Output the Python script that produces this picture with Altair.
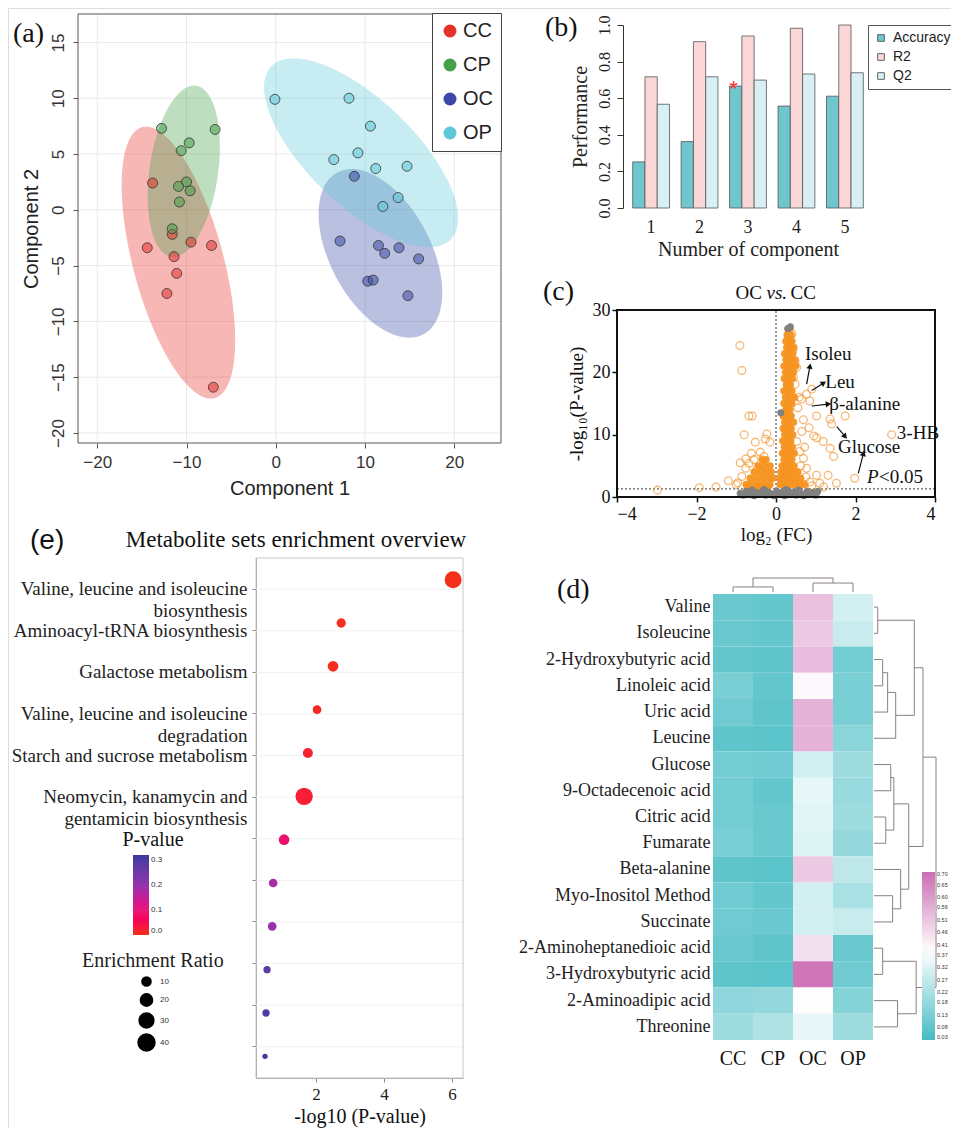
import json
import altair as alt
import numpy as np
import pandas as pd

SERIF = "Liberation Serif"
SANS = "Liberation Sans"
W, H = 943, 1120   # canvas (page minus 8px margins)

# ---------------- (a) PLS-DA scores ----------------
pls_groups = ["CC", "CP", "OC", "OP"]
group_colors = ["#e4322b", "#45a04a", "#3a4aa6", "#5ec8d8"]
cc_x = [-13.8, -14.4, -11.6, -11.4, -11.1, -12.2, -9.5, -7.2, -7.0]
cc_y = [2.4, -3.4, -2.2, -4.2, -5.7, -7.5, -2.9, -3.2, -15.9]
cp_x = [-12.8, -6.8, -9.7, -10.6, -10.0, -10.9, -9.6, -10.8, -11.6]
cp_y = [7.3, 7.2, 6.0, 5.3, 2.5, 2.1, 1.7, 0.7, -1.7]
oc_x = [8.8, 7.2, 11.5, 12.2, 13.8, 16.0, 10.3, 10.9, 14.8]
oc_y = [3.0, -2.8, -3.2, -3.9, -3.4, -4.4, -6.4, -6.3, -7.7]
op_x = [-0.1, 8.2, 10.6, 6.5, 9.2, 11.2, 14.7, 13.7, 12.0]
op_y = [9.9, 10.0, 7.5, 4.5, 5.1, 3.7, 3.9, 1.1, 0.3]
a_xticks = [-20, -10, 0, 10, 20]
a_yticks = [-20, -15, -10, -5, 0, 5, 10, 15]

# ---------------- (b) performance ----------------
components = [1, 2, 3, 4, 5]
perf_metrics = ["Accuracy", "R2", "Q2"]
perf_colors = ["#70c6cd", "#fad6d6", "#d7eff5"]
accuracy = [0.252, 0.363, 0.666, 0.557, 0.611]
r2_vals = [0.717, 0.909, 0.940, 0.982, 1.0]
q2_vals = [0.567, 0.717, 0.699, 0.732, 0.739]
best_component = 3

# ---------------- (c) volcano ----------------
open_x = [-0.91, -0.86, -0.68, -0.60, -0.80, -2.98, -1.93, -1.51, -1.20, -0.96, -0.76, -0.52,
          -0.23, -0.27, -0.15, -0.76, -0.68, -0.47, -0.32, -0.36, -0.19, -0.86, -0.57, -0.42,
          -0.62, -0.55, -0.40, -0.30, -0.90, -1.00,
          0.90, 0.77, 0.64, 0.85, 0.55, 1.02, 1.36, 1.74, 1.40, 0.83, 1.02, 1.19, 1.36, 1.45,
          2.91, 1.98, 1.02, 1.31, 1.52, 1.10, 0.85, 0.77, 0.69, 0.60, 0.52, 0.65, 0.69, 0.48,
          0.52, 0.42, 0.40, 0.48, 0.44, 0.58, 0.95, 0.72, 0.62, 0.75, 0.90, 1.20]
open_y = [24.3, 20.3, 13.0, 13.0, 10.0, 1.1, 1.5, 1.6, 2.6, 2.3, 6.1, 8.8,
          10.1, 9.3, 8.8, 4.6, 5.4, 4.6, 5.1, 3.8, 3.5, 3.3, 2.4, 1.6,
          7.0, 6.0, 7.2, 6.5, 5.5, 2.0,
          17.3, 16.5, 15.7, 15.4, 14.3, 13.0, 12.5, 13.0, 11.7, 11.1, 9.5, 8.9, 7.8, 6.5,
          10.0, 3.0, 3.5, 3.5, 2.2, 2.2, 2.4, 4.6, 6.2, 7.3, 8.9, 10.5, 12.4, 18.1,
          20.8, 23.5, 26.2, 21.8, 19.2, 16.0, 9.8, 8.0, 5.0, 3.2, 1.8, 1.6]
filled_x = [0.30, 0.35, 0.28, 0.38, 0.25, 0.33, 0.40, 0.27, 0.36, 0.45, 0.22, 0.31, 0.42,
            0.25, 0.35, 0.48, 0.20, 0.30, 0.40, 0.50, 0.24, 0.34, 0.44, 0.21, 0.31, 0.41,
            0.26, 0.36, 0.20, 0.30, 0.40, 0.24, 0.34, 0.46, 0.20, 0.30, 0.40, 0.25, 0.35,
            0.18, 0.28, 0.38, 0.22, 0.32, 0.44, 0.18, 0.28, 0.38, 0.22, 0.32, 0.42, 0.17,
            0.27, 0.37, 0.21, 0.31, 0.41, 0.16, 0.26, 0.36, 0.46, 0.20, 0.30, 0.40, 0.15,
            0.25, 0.35, 0.45, 0.12, 0.22, 0.32, 0.42, 0.55, 0.10, 0.20, 0.30, 0.40, 0.50,
            0.62, 0.10, 0.20, 0.30, 0.40, 0.50, 0.60, 0.72,
            -0.35, -0.25, -0.45, -0.30, -0.15, -0.55, -0.40, -0.25, -0.12, -0.65, -0.50,
            -0.35, -0.20, -0.08, -0.75, -0.60, -0.45, -0.30, -0.15, -0.70, -0.50, -0.35, -0.20]
filled_y = [27, 27, 26, 26, 25, 25, 25, 24, 24, 24, 23, 23, 23,
            22, 22, 22, 21, 21, 21, 21, 20, 20, 20, 19, 19, 19,
            18, 18, 17, 17, 17, 16, 16, 16, 15, 15, 15, 14, 14,
            13, 13, 13, 12, 12, 12, 11, 11, 11, 10, 10, 10, 9,
            9, 9, 8, 8, 8, 7, 7, 7, 7, 6, 6, 6, 5,
            5, 5, 5, 4, 4, 4, 4, 4, 3, 3, 3, 3, 3,
            3, 2, 2, 2, 2, 2, 2, 2,
            6, 6, 5, 5, 5, 4, 4, 4, 4, 3, 3,
            3, 3, 3, 2, 2, 2, 2, 2, 1.6, 1.6, 1.6, 1.6]
gray_x = [-0.90, -0.82, -0.75, -0.68, -0.60, -0.55, -0.48, -0.40, -0.33, -0.26, -0.20, -0.12,
          -0.05, 0.02, 0.08, 0.15, 0.22, 0.30, 0.36, 0.44, 0.50, 0.57, 0.64, 0.70, 0.78, 0.85,
          0.92, 1.00, 1.05, 0.12, 0.30, 0.36, -0.30, 0.25]
gray_y = [0.6, 0.3, 0.9, 0.4, 1.1, 0.2, 0.7, 0.4, 1.0, 0.3, 0.8, 0.5,
          0.2, 0.9, 0.4, 0.7, 0.2, 1.0, 0.5, 0.8, 0.3, 1.1, 0.5, 0.2, 0.9, 0.4,
          0.7, 0.3, 0.9, 13.5, 27.0, 27.3, 1.2, 1.2]
p_threshold = 1.3
volcano_labels = ["Isoleu", "Leu", "β-alanine", "3-HB", "Glucose"]
label_x = [0.73, 1.24, 1.34, 3.04, 1.56]
label_y = [23.0, 18.5, 14.9, 10.3, 8.1]
arrow_x1 = [0.77, 0.90, 0.90, 1.53, 2.07]
arrow_y1 = [18.1, 17.1, 14.6, 11.3, 3.8]
arrow_x2 = [0.855, 1.20, 1.32, 1.74, 2.20]
arrow_y2 = [21.0, 18.3, 14.9, 9.7, 7.0]

# ---------------- (e) enrichment ----------------
pathway_lines = [["Valine, leucine and isoleucine", "biosynthesis"],
                 ["Aminoacyl-tRNA biosynthesis"],
                 ["Galactose metabolism"],
                 ["Valine, leucine and isoleucine", "degradation"],
                 ["Starch and sucrose metabolism"],
                 ["Neomycin, kanamycin and", "gentamicin biosynthesis"],
                 [""], [""], [""], [""], [""], [""]]
enrich_logp = [6.03, 2.74, 2.50, 2.03, 1.76, 1.65, 1.06, 0.74, 0.71, 0.56, 0.53, 0.50]
enrich_ratio = [40.4, 10.5, 14.6, 9.0, 12.6, 42.0, 14.6, 9.0, 9.0, 5.7, 5.7, 2.0]

# ---------------- (d) heatmap ----------------
hm_cols = ["CC", "CP", "OC", "OP"]
hm_rows = ["Valine", "Isoleucine", "2-Hydroxybutyric acid", "Linoleic acid", "Uric acid",
           "Leucine", "Glucose", "9-Octadecenoic acid", "Citric acid", "Fumarate",
           "Beta-alanine", "Myo-Inositol Method", "Succinate", "2-Aminoheptanedioic acid",
           "3-Hydroxybutyric acid", "2-Aminoadipic acid", "Threonine"]
hm_cc = [0.10, 0.10, 0.09, 0.13, 0.11, 0.08, 0.12, 0.12, 0.12, 0.13, 0.08, 0.11, 0.11, 0.10, 0.08, 0.17, 0.20]
hm_cp = [0.09, 0.09, 0.08, 0.09, 0.08, 0.07, 0.11, 0.09, 0.10, 0.10, 0.07, 0.09, 0.10, 0.08, 0.07, 0.18, 0.23]
hm_oc = [0.52, 0.50, 0.53, 0.40, 0.55, 0.55, 0.30, 0.34, 0.33, 0.32, 0.50, 0.30, 0.30, 0.45, 0.68, 0.39, 0.34]
hm_op = [0.30, 0.28, 0.12, 0.13, 0.13, 0.16, 0.20, 0.19, 0.20, 0.18, 0.26, 0.22, 0.28, 0.10, 0.11, 0.15, 0.20]
hm_legend_ticks = [0.70, 0.65, 0.60, 0.56, 0.51, 0.46, 0.41, 0.37, 0.32, 0.27, 0.22, 0.18, 0.13, 0.08, 0.03]
row_tree = [("Valine", "Isoleucine", 0.06),
            ("2-Hydroxybutyric acid", "Linoleic acid", 0.14),
            ("m1", "Uric acid", 0.22),
            ("m2", "Leucine", 0.35),
            ("m0", "m3", 0.65),
            ("Glucose", "9-Octadecenoic acid", 0.27),
            ("Citric acid", "Fumarate", 0.19),
            ("m5", "m6", 0.32),
            ("Myo-Inositol Method", "Succinate", 0.30),
            ("Beta-alanine", "m8", 0.43),
            ("m7", "m9", 0.56),
            ("m4", "m10", 0.79),
            ("2-Aminoheptanedioic acid", "3-Hydroxybutyric acid", 0.14),
            ("2-Aminoadipic acid", "Threonine", 0.38),
            ("m12", "m13", 0.68),
            ("m11", "m14", 1.0)]
col_tree = [("CC", "CP", 0.36), ("OC", "OP", 0.64), ("m0", "m1", 1.0)]

# ---------------- panel boxes on the canvas (pixels) ----------------
BOX_A = (70, 493, 6, 435)       # x0, x1, y0(top), y1(bottom)
BOX_B = (615, 865, 17, 200)
BOX_C = (609, 927, 302, 489)
BOX_E = (248, 455, 550, 1070)
BOX_D = (705, 865, 586, 1032)


def txt(s, x, y, size=28, font=SERIF, align="left", style="normal", color="#111"):
    return alt.Chart(pd.DataFrame({"t": [s]})).mark_text(
        text=s, font=font, fontSize=size, align=align, baseline="middle",
        fontStyle=style, color=color
    ).encode(x=alt.value(x), y=alt.value(y))


def lin(domain, rng):
    return alt.Scale(domain=list(domain), range=list(rng), nice=False, zero=False)


layers = []

# ============ panel a ============
def ellipse_rows(name, xs, ys, k=2.4477, n=90):
    xs = np.asarray(xs, float)
    ys = np.asarray(ys, float)
    mx, my = xs.mean(), ys.mean()
    S = np.cov(xs, ys)
    inv = np.linalg.inv(S)
    a, b, d = inv[0, 0], inv[0, 1], inv[1, 1]
    half = k * np.sqrt(S[0, 0])
    out = []
    for th in np.linspace(np.pi, 0, n):
        dx = half * np.cos(th)
        disc = max(b * b * dx * dx - d * (a * dx * dx - k * k), 0.0)
        r = np.sqrt(disc)
        out.append({"group": name, "x": mx + dx,
                    "lo": my + (-b * dx - r) / d, "hi": my + (-b * dx + r) / d})
    return out


grp_xy = {"CC": (cc_x, cc_y), "CP": (cp_x, cp_y), "OC": (oc_x, oc_y), "OP": (op_x, op_y)}
pts_rows, ell_rows = [], []
for g in pls_groups:
    gx, gy = grp_xy[g]
    for xv, yv in zip(gx, gy):
        pts_rows.append({"group": g, "x": xv, "y": yv})
    ell_rows += ellipse_rows(g, gx, gy)

a_xdom = (-22.16, 25.23)
a_ydom = (-20.9, 17.55)
sa_x = lin(a_xdom, (BOX_A[0], BOX_A[1]))
sa_y = lin(a_ydom, (BOX_A[3], BOX_A[2]))
ax_xa = alt.Axis(orient="bottom", offset=BOX_A[3] - H, values=a_xticks, title="Component 1",
                 labelFont=SANS, labelFontSize=17, labelColor="#333", titleFont=SANS, titleFontSize=20,
                 titleFontWeight="normal", titleColor="#222", tickColor="#555", tickSize=5,
                 domain=False, grid=False, labelPadding=6, titlePadding=8)
ax_ya = alt.Axis(orient="left", offset=-BOX_A[0], values=a_yticks, title="Component 2", labelAngle=-90,
                 labelAlign="center", labelBaseline="bottom", labelFont=SANS, labelFontSize=17,
                 labelColor="#333", titleFont=SANS, titleFontSize=20, titleFontWeight="normal",
                 titleColor="#222", tickColor="#555", tickSize=5, domain=False, grid=False,
                 labelPadding=6, titlePadding=8)
grid_v = pd.DataFrame({"v": a_xticks, "lo": a_ydom[0], "hi": a_ydom[1]})
grid_h = pd.DataFrame({"v": a_yticks, "lo": a_xdom[0], "hi": a_xdom[1]})
layers.append(alt.Chart(grid_v).mark_rule(color="#e9e9e9", strokeWidth=1).encode(
    x=alt.X("v:Q", scale=sa_x, axis=ax_xa), y=alt.Y("lo:Q", scale=sa_y, axis=ax_ya), y2="hi:Q"))
layers.append(alt.Chart(grid_h).mark_rule(color="#e9e9e9", strokeWidth=1).encode(
    y=alt.Y("v:Q", scale=sa_y, axis=None), x=alt.X("lo:Q", scale=sa_x, axis=None), x2="hi:Q"))
layers.append(alt.Chart(pd.DataFrame(ell_rows)).mark_area(opacity=0.35).encode(
    x=alt.X("x:Q", scale=sa_x, axis=None),
    y=alt.Y("lo:Q", scale=sa_y, axis=None),
    y2="hi:Q",
    fill=alt.Fill("group:N", scale=alt.Scale(domain=pls_groups, range=group_colors), legend=None)))
layers.append(alt.Chart(pd.DataFrame(pts_rows)).mark_circle(
    size=100, fillOpacity=0.55, stroke="#333", strokeWidth=0.8).encode(
    x=alt.X("x:Q", scale=sa_x, axis=None),
    y=alt.Y("y:Q", scale=sa_y, axis=None),
    color=alt.Color("group:N", scale=alt.Scale(domain=pls_groups, range=group_colors),
                    legend=alt.Legend(title=None, orient="none", legendX=424, legendY=5,
                                      strokeColor="#444", fillColor="white", padding=8,
                                      symbolType="circle", symbolSize=169, symbolOpacity=1,
                                      symbolStrokeWidth=0, labelFont=SANS, labelFontSize=20,
                                      labelColor="#222", rowPadding=14, labelOffset=3))))
frame_a = pd.DataFrame({"x1": [a_xdom[0]], "x2": [a_xdom[1]], "y1": [a_ydom[0]], "y2": [a_ydom[1]]})
layers.append(alt.Chart(frame_a).mark_rect(fillOpacity=0, stroke="#555", strokeWidth=1).encode(
    x=alt.X("x1:Q", scale=sa_x, axis=None), x2="x2:Q", y=alt.Y("y1:Q", scale=sa_y, axis=None), y2="y2:Q"))
layers.append(txt("(a)", 5, 26))

# ============ panel b ============
b_rows = []
for i, c in enumerate(components):
    for m, vals in zip(perf_metrics, [accuracy, r2_vals, q2_vals]):
        b_rows.append({"comp": c, "metric": m, "value": vals[i]})
star_df = pd.DataFrame({"comp": [best_component], "metric": ["Accuracy"],
                        "value": [accuracy[components.index(best_component)]]})
sb_x = alt.Scale(domain=components, range=[BOX_B[0], BOX_B[1]], paddingInner=0.24, paddingOuter=0.2)
sb_y = lin((0, 1), (BOX_B[3], BOX_B[2]))
sb_off = alt.Scale(domain=perf_metrics, paddingInner=0, paddingOuter=0)
ax_xb = alt.Axis(orient="bottom", offset=BOX_B[3] - H, labelAngle=0, labelFont=SERIF, labelFontSize=18,
                 labelColor="#222", ticks=False, domain=False, title="Number of component",
                 titleFont=SERIF, titleFontSize=20, titleFontWeight="normal", titleColor="#222",
                 labelPadding=10, titlePadding=3)
ax_yb = alt.Axis(orient="left", offset=-BOX_B[0], values=[0, 0.2, 0.4, 0.6, 0.8, 1.0], format=".1f",
                 labelAngle=-90, labelAlign="center", labelBaseline="bottom", labelFont=SERIF,
                 labelFontSize=16, labelColor="#222", tickSize=6, tickColor="#333", domainColor="#333",
                 grid=False, title="Performance", titleFont=SERIF, titleFontSize=20,
                 titleFontWeight="normal", titleColor="#222", labelPadding=5, titlePadding=6)
layers.append(alt.Chart(pd.DataFrame(b_rows)).mark_bar(stroke="#555", strokeWidth=0.8).encode(
    x=alt.X("comp:O", scale=sb_x, axis=ax_xb),
    xOffset=alt.XOffset("metric:N", sort=perf_metrics, scale=sb_off),
    y=alt.Y("value:Q", scale=sb_y, axis=ax_yb),
    color=alt.Color("metric:N", sort=perf_metrics, scale=alt.Scale(domain=perf_metrics, range=perf_colors),
                    legend=alt.Legend(title=None, orient="none", legendX=860, legendY=BOX_B[2],
                                      strokeColor="#555", fillColor="white", padding=6, symbolType="square",
                                      symbolSize=45, symbolStrokeColor="#444", symbolStrokeWidth=0.8,
                                      labelFont=SANS, labelFontSize=14, labelColor="#222", rowPadding=5,
                                      labelOffset=5))))
layers.append(alt.Chart(star_df).mark_text(text="*", color="#ff2a2a", fontSize=22, font=SANS,
                                           baseline="alphabetic", dy=10, dx=4).encode(
    x=alt.X("comp:O", scale=sb_x, axis=None),
    xOffset=alt.XOffset("metric:N", sort=perf_metrics, scale=sb_off),
    y=alt.Y("value:Q", scale=sb_y, axis=None)))
layers.append(txt("(b)", 537, 20))

# ============ panel c ============
c_xdom, c_ydom = (-4, 4), (0, 30)
sc_x = lin(c_xdom, (BOX_C[0], BOX_C[1]))
sc_y = lin(c_ydom, (BOX_C[3], BOX_C[2]))
ax_xc = alt.Axis(orient="bottom", offset=BOX_C[3] - H, values=[-4, -2, 0, 2, 4], title="log₂ (FC)",
                 labelFont=SERIF, labelFontSize=18, labelColor="#111", titleFont=SERIF, titleFontSize=19,
                 titleFontWeight="normal", titleColor="#111", tickColor="#111", tickWidth=1.5, tickSize=5,
                 domain=False, grid=False, labelPadding=3, titlePadding=2)
ax_yc = alt.Axis(orient="left", offset=-BOX_C[0], values=[0, 10, 20, 30], title="-log₁₀(P-value)",
                 labelFont=SERIF, labelFontSize=18, labelColor="#111", titleFont=SERIF, titleFontSize=19,
                 titleFontWeight="normal", titleColor="#111", tickColor="#111", tickWidth=1.5, tickSize=5,
                 domain=False, grid=False, labelPadding=2, titlePadding=6)


def XC(f, axis=None):
    return alt.X(f, scale=sc_x, axis=axis)


def YC(f, axis=None):
    return alt.Y(f, scale=sc_y, axis=axis)


sx_px = (BOX_C[1] - BOX_C[0]) / (c_xdom[1] - c_xdom[0])
sy_px = (BOX_C[3] - BOX_C[2]) / (c_ydom[1] - c_ydom[0])
ang = [float(np.degrees(np.arctan2((x2 - x1) * sx_px, (y2 - y1) * sy_px)) % 360)
       for x1, y1, x2, y2 in zip(arrow_x1, arrow_y1, arrow_x2, arrow_y2)]
arrow_df = pd.DataFrame({"x1": arrow_x1, "y1": arrow_y1, "x2": arrow_x2, "y2": arrow_y2, "ang": ang})
layers += [
    alt.Chart(pd.DataFrame({"x": [0], "lo": [c_ydom[0]], "hi": [c_ydom[1]]})).mark_rule(
        strokeDash=[2, 2], color="#333", strokeWidth=1).encode(x=XC("x:Q", ax_xc), y=YC("lo:Q", ax_yc), y2="hi:Q"),
    alt.Chart(pd.DataFrame({"y": [p_threshold], "lo": [c_xdom[0]], "hi": [c_xdom[1]]})).mark_rule(
        strokeDash=[2, 2], color="#333", strokeWidth=1).encode(y=YC("y:Q"), x=XC("lo:Q"), x2="hi:Q"),
    alt.Chart(pd.DataFrame({"x": open_x, "y": open_y})).mark_point(
        size=60, color="#f39a3a", strokeWidth=1.3, filled=False).encode(x=XC("x:Q"), y=YC("y:Q")),
    alt.Chart(pd.DataFrame({"x": filled_x, "y": filled_y})).mark_circle(
        size=55, color="#f6921e", opacity=0.95).encode(x=XC("x:Q"), y=YC("y:Q")),
    alt.Chart(pd.DataFrame({"x": gray_x, "y": gray_y})).mark_circle(
        size=50, color="#808080", opacity=1).encode(x=XC("x:Q"), y=YC("y:Q")),
    alt.Chart(arrow_df).mark_rule(color="#111", strokeWidth=1.2).encode(
        x=XC("x1:Q"), y=YC("y1:Q"), x2="x2:Q", y2="y2:Q"),
    alt.Chart(arrow_df).mark_point(shape="triangle-up", filled=True, size=40, color="#111", opacity=1).encode(
        x=XC("x2:Q"), y=YC("y2:Q"), angle=alt.Angle("ang:Q", scale=None)),
    alt.Chart(pd.DataFrame({"x": label_x, "y": label_y, "t": volcano_labels})).mark_text(
        font=SERIF, fontSize=19, align="left", baseline="middle", color="#111").encode(
        x=XC("x:Q"), y=YC("y:Q"), text="t:N"),
    alt.Chart(pd.DataFrame({"x1": [c_xdom[0]], "x2": [c_xdom[1]], "y1": [c_ydom[0]], "y2": [c_ydom[1]]})).mark_rect(
        fillOpacity=0, stroke="#111", strokeWidth=2).encode(x=XC("x1:Q"), x2="x2:Q", y=YC("y1:Q"), y2="y2:Q"),
    txt("P", BOX_C[0] + 250, BOX_C[2] + 167, size=19, style="italic"),
    txt("<0.05", BOX_C[0] + 262, BOX_C[2] + 167, size=19),
    txt("OC", BOX_C[0] + 145, BOX_C[2] - 17, size=19, align="right"),
    txt("vs.", BOX_C[0] + 149.5, BOX_C[2] - 17, size=19, style="italic"),
    txt("CC", BOX_C[0] + 173.5, BOX_C[2] - 17, size=19),
    txt("(c)", 535, 284),
]

# ============ panel e ============
e_xdom = (0.235, 6.32)
ranks = list(range(1, 13))
se_x = lin(e_xdom, (BOX_E[0], BOX_E[1]))
se_y = alt.Scale(domain=ranks, range=[BOX_E[2], BOX_E[3]], padding=0.5)
e_df = pd.DataFrame({"rank": ranks, "logp": enrich_logp, "ratio": enrich_ratio,
                     "p": [10 ** (-v) for v in enrich_logp], "lo": e_xdom[0], "hi": e_xdom[1]})
label_expr = json.dumps(pathway_lines, ensure_ascii=False) + "[datum.value - 1]"
ax_xe = alt.Axis(orient="bottom", offset=BOX_E[3] - H, values=[2, 4, 6], title="-log10 (P-value)",
                 labelFont=SERIF, labelFontSize=17, labelColor="#222", titleFont=SERIF, titleFontSize=20,
                 titleFontWeight="normal", titleColor="#111", tickColor="#888", tickSize=4,
                 domainColor="#999", grid=False, labelPadding=4, titlePadding=4)
ax_ye = alt.Axis(orient="left", offset=-BOX_E[0], title=None, labelExpr=label_expr, labelFont=SERIF,
                 labelFontSize=19, labelColor="#222", labelLineHeight=22, labelLimit=400, tickColor="#888",
                 tickSize=4, domainColor="#999", grid=False, labelPadding=5)
layers.append(alt.Chart(e_df).mark_rule(color="#f0f0f0", strokeWidth=1).encode(
    y=alt.Y("rank:O", scale=se_y, axis=ax_ye), x=alt.X("lo:Q", scale=se_x, axis=ax_xe), x2="hi:Q"))
layers.append(alt.Chart(pd.DataFrame({"x1": [e_xdom[0]], "x2": [e_xdom[1]]})).mark_rect(
    fillOpacity=0, stroke="#c8c8c8", strokeWidth=1).encode(
    x=alt.X("x1:Q", scale=se_x, axis=None), x2="x2:Q", y=alt.value(BOX_E[2]), y2=alt.value(BOX_E[3])))
layers.append(alt.Chart(e_df).mark_circle(opacity=1).encode(
    x=alt.X("logp:Q", scale=se_x, axis=None),
    y=alt.Y("rank:O", scale=se_y, axis=None),
    color=alt.Color("p:Q", scale=alt.Scale(domain=[0, 0.1, 0.2, 0.32],
                                           range=["#f5301a", "#e81a78", "#9334ac", "#3b3a9e"]),
                    legend=alt.Legend(title=None, orient="none", legendX=125, legendY=847,
                                      direction="vertical", gradientLength=80, gradientThickness=16,
                                      values=[0, 0.1, 0.2, 0.3], format=".1f", labelFont=SANS,
                                      labelFontSize=8, labelColor="#333", gradientStrokeWidth=0)),
    size=alt.Size("ratio:Q", scale=alt.Scale(domain=[2, 42], range=[28, 300], zero=False),
                  legend=alt.Legend(title="Enrichment Ratio", orient="none", legendX=74, legendY=943,
                                    titleFont=SERIF, titleFontSize=20, titleFontWeight="normal",
                                    titleColor="#222", values=[10, 20, 30, 40], symbolFillColor="#000",
                                    symbolStrokeColor="#000", symbolType="circle", symbolOffset=55,
                                    labelFont=SANS, labelFontSize=8, labelColor="#333", rowPadding=0))))
layers += [
    txt("P-value", 145, 832, size=20, align="center"),
    txt("Metabolite sets enrichment overview", 288, 532, size=23, align="center"),
    txt("(e)", 22, 533, size=28, font=SANS),
]

# ============ panel d ============
hm_records = []
for i, r in enumerate(hm_rows):
    for c, vals in zip(hm_cols, [hm_cc, hm_cp, hm_oc, hm_op]):
        hm_records.append({"row": r, "col": c, "val": vals[i]})


def dendro_segments(tree, leaves):
    pos = {name: i + 0.5 for i, name in enumerate(leaves)}
    hgt = {name: 0.0 for name in leaves}
    segs = []
    for k, (l, r, h) in enumerate(tree):
        for ch in (l, r):
            segs.append({"h1": hgt[ch], "h2": h, "p1": pos[ch], "p2": pos[ch]})
        segs.append({"h1": h, "h2": h, "p1": pos[l], "p2": pos[r]})
        pos["m%d" % k] = (pos[l] + pos[r]) / 2.0
        hgt["m%d" % k] = h
    return pd.DataFrame(segs)


sd_x = alt.Scale(domain=hm_cols, range=[BOX_D[0], BOX_D[1]], paddingInner=0, paddingOuter=0)
sd_y = alt.Scale(domain=hm_rows, range=[BOX_D[2], BOX_D[3]], paddingInner=0, paddingOuter=0)
ax_xd = alt.Axis(orient="bottom", offset=BOX_D[3] - H, labelFont=SERIF, labelFontSize=20, labelColor="#111",
                 labelAngle=0, ticks=False, domain=False, title=None, labelPadding=8)
ax_yd = alt.Axis(orient="left", offset=-BOX_D[0], labelFont=SERIF, labelFontSize=18, labelColor="#222",
                 ticks=False, domain=False, title=None, labelPadding=3, labelLimit=300)
layers.append(alt.Chart(pd.DataFrame(hm_records)).mark_rect().encode(
    x=alt.X("col:N", sort=hm_cols, scale=sd_x, axis=ax_xd),
    y=alt.Y("row:N", sort=hm_rows, scale=sd_y, axis=ax_yd),
    color=alt.Color("val:Q", scale=alt.Scale(domain=[0.03, 0.385, 0.70],
                                             range=["#45bcc3", "#ffffff", "#cc6db3"], interpolate="rgb"),
                    legend=alt.Legend(title=None, orient="none", legendX=BOX_D[0] + 209, legendY=BOX_D[2] + 278,
                                      direction="vertical", gradientLength=168, gradientThickness=13,
                                      values=hm_legend_ticks, format=".2f", labelFont=SANS,
                                      labelFontSize=5.5, labelColor="#333", labelOverlap=False,
                                      labelOffset=2, gradientStrokeWidth=0))))
row_seg = dendro_segments(row_tree, hm_rows)
col_seg = dendro_segments(col_tree, hm_cols)
layers.append(alt.Chart(row_seg).mark_rule(color="#8a7f80", strokeWidth=1).encode(
    x=alt.X("h1:Q", scale=lin((0, 1), (BOX_D[1] + 1, BOX_D[1] + 63)), axis=None), x2="h2:Q",
    y=alt.Y("p1:Q", scale=lin((0, len(hm_rows)), (BOX_D[2], BOX_D[3])), axis=None), y2="p2:Q"))
layers.append(alt.Chart(col_seg).mark_rule(color="#8a7f80", strokeWidth=1).encode(
    x=alt.X("p1:Q", scale=lin((0, len(hm_cols)), (BOX_D[0], BOX_D[1])), axis=None), x2="p2:Q",
    y=alt.Y("h1:Q", scale=lin((0, 1), (BOX_D[2] - 2, BOX_D[2] - 16)), axis=None), y2="h2:Q"))
layers.append(txt("(d)", 549, 582))

chart = alt.layer(*layers).resolve_scale(
    x="independent", y="independent", color="independent", fill="independent",
    size="independent", xOffset="independent", angle="independent"
).properties(
    width=W, height=H, autosize=alt.AutoSizeParams(type="none"), padding=0
).configure_view(stroke=None).configure(background="white")

chart.save("out.html", embed_options={"renderer": "svg", "actions": False})
